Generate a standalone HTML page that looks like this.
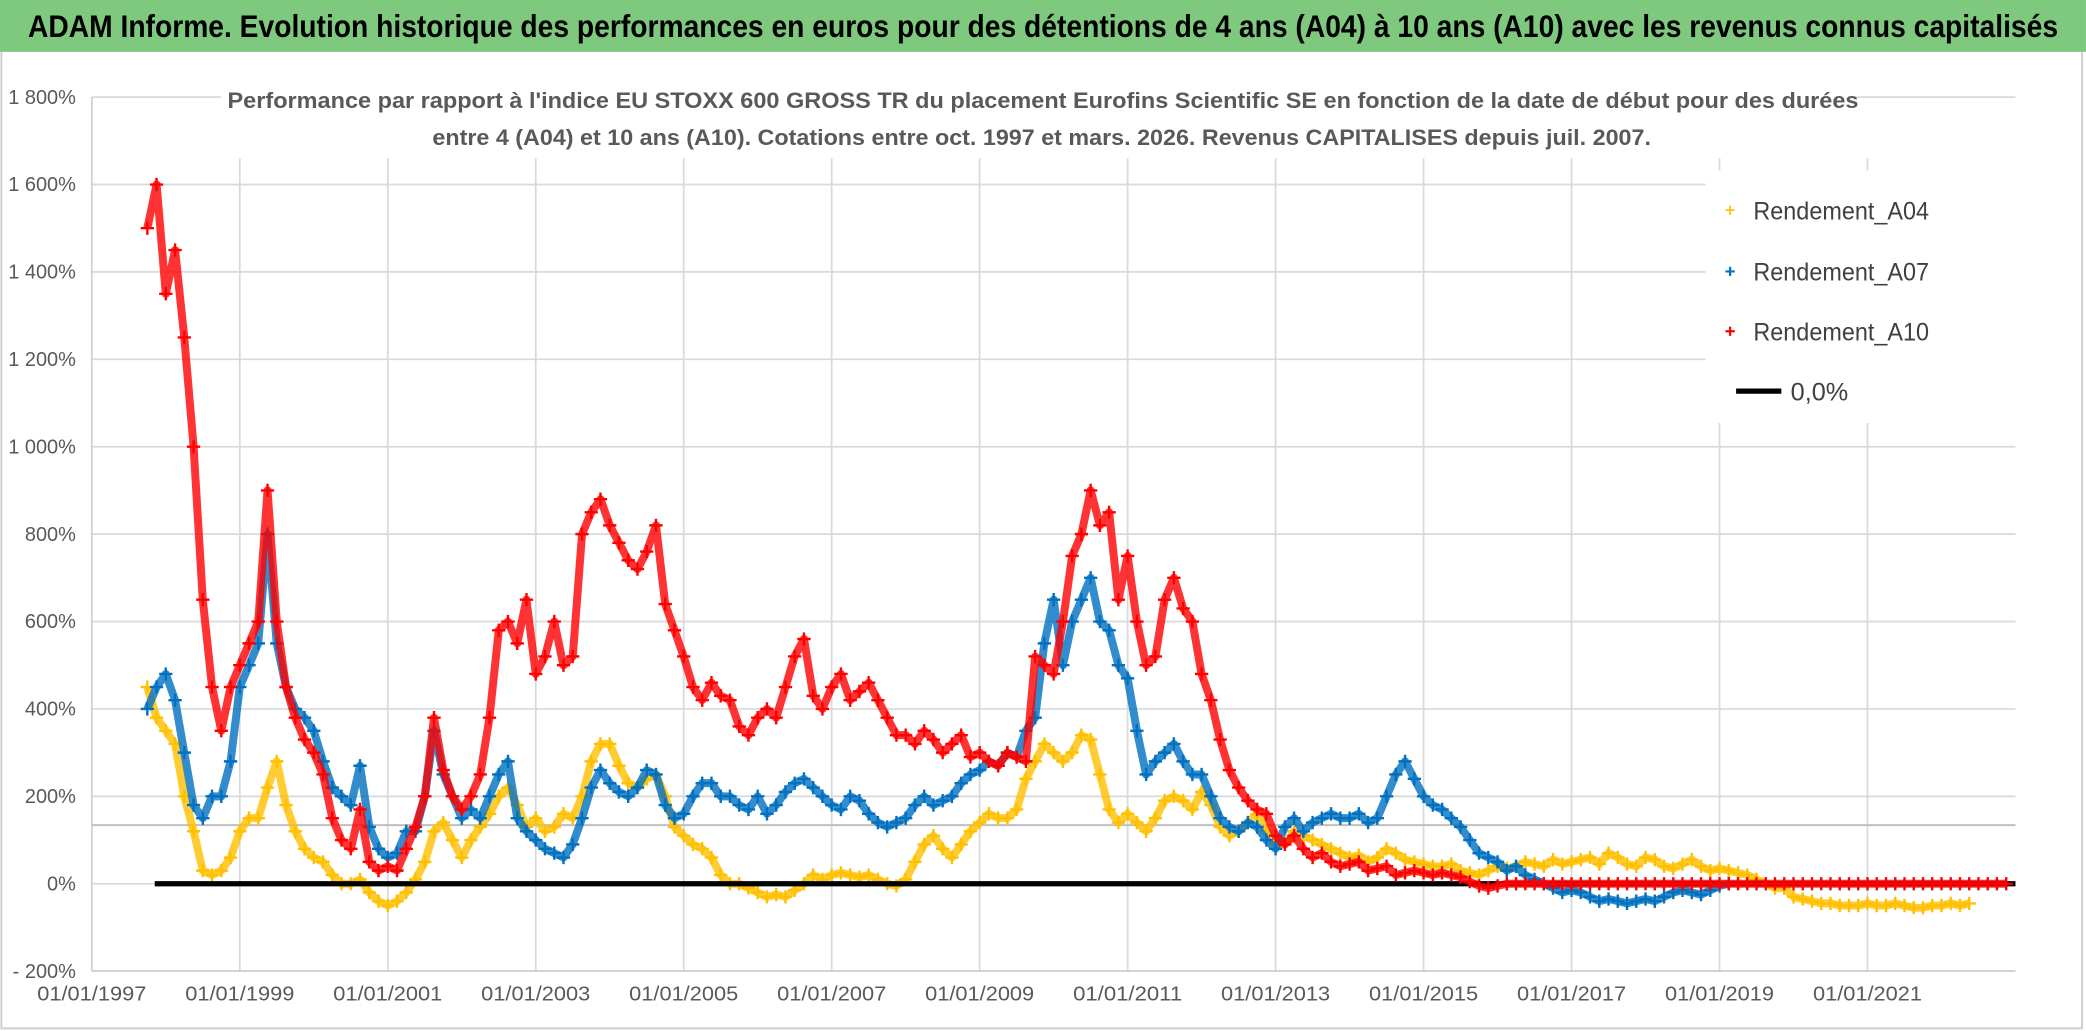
<!DOCTYPE html>
<html><head><meta charset="utf-8"><style>
html,body{margin:0;padding:0;background:#fff;}
svg{display:block;}
text{font-family:"Liberation Sans",sans-serif;}
</style></head><body>
<svg id="chart" width="2086" height="1031" viewBox="0 0 1568 775" xmlns="http://www.w3.org/2000/svg">
<rect x="0" y="0" width="1568" height="775" fill="#fff"/>
<rect x="1" y="1" width="1564" height="772" fill="none" stroke="#d0d0d0" stroke-width="1.5"/>
<rect x="0" y="0" width="1568" height="39" fill="#7fc97f"/>
<text x="784" y="28" text-anchor="middle" font-size="24" font-weight="bold" fill="#000" textLength="1526" lengthAdjust="spacingAndGlyphs">ADAM Informe. Evolution historique des performances en euros pour des détentions de 4 ans (A04) à 10 ans (A10) avec les revenus connus capitalisés</text>
<g id="grid"></g>
<rect x="166" y="58" width="1226" height="60" fill="#fff"/>
<text x="784" y="81" text-anchor="middle" font-size="17" font-weight="bold" fill="#595959" textLength="1226" lengthAdjust="spacingAndGlyphs">Performance par rapport à l'indice EU STOXX 600 GROSS TR  du placement Eurofins Scientific SE en fonction de la date de début pour des durées</text>
<text x="783" y="109" text-anchor="middle" font-size="17" font-weight="bold" fill="#595959" textLength="916" lengthAdjust="spacingAndGlyphs">entre 4 (A04) et 10 ans (A10). Cotations entre oct. 1997 et mars. 2026. Revenus CAPITALISES depuis juil. 2007.</text>
<g id="axes"></g>
<g id="series"></g>
<g id="legend">
<rect x="1282" y="128" width="233" height="190" fill="#fff"/>
<g><path d="M1297 158h7M1300.5 154.5v7" stroke="#FFC000" stroke-width="1.3"/><text x="1318" y="165" font-size="19" fill="#404040" textLength="132" lengthAdjust="spacingAndGlyphs">Rendement_A04</text></g>
<g><path d="M1297 204h7M1300.5 200.5v7" stroke="#0070C0" stroke-width="1.6"/><text x="1318" y="211" font-size="19" fill="#404040" textLength="132" lengthAdjust="spacingAndGlyphs">Rendement_A07</text></g>
<g><path d="M1297 249h7M1300.5 245.5v7" stroke="#FF0000" stroke-width="1.6"/><text x="1318" y="256" font-size="19" fill="#404040" textLength="132" lengthAdjust="spacingAndGlyphs">Rendement_A10</text></g>
<g><path d="M1305 294h34" stroke="#000" stroke-width="4"/><text x="1346" y="301" font-size="19" fill="#404040">0,0%</text></g>
</g>
</svg>
<script>
const yTicks=[1800,1600,1400,1200,1000,800,600,400,200,0,-200];
const yTickLabels=["1 800%","1 600%","1 400%","1 200%","1 000%","800%","600%","400%","200%","0%","- 200%"];
const xTickYears=[1997,1999,2001,2003,2005,2007,2009,2011,2013,2015,2017,2019,2021];
const xTickLabels=["01/01/1997","01/01/1999","01/01/2001","01/01/2003","01/01/2005","01/01/2007","01/01/2009","01/01/2011","01/01/2013","01/01/2015","01/01/2017","01/01/2019","01/01/2021"];
const refLineValue=134;
const zeroLineStart=1997.85, zeroLineEnd=2023;
const a04Start=1997.75, a07Start=1997.75, a10Start=1997.75, stepYears=0.125;
const a04Values=[450,380,350,320,200,120,30,20,30,60,120,150,150,220,280,180,120,80,60,50,20,0,0,10,-20,-40,-50,-40,-20,10,50,120,140,100,60,100,130,160,200,220,180,130,150,120,130,160,150,200,280,320,320,270,230,220,240,250,200,130,110,90,80,60,20,0,0,-10,-20,-30,-25,-30,-15,0,20,10,20,25,20,15,20,10,0,-5,10,50,90,110,80,60,90,120,140,160,150,150,170,240,280,320,300,280,300,340,330,250,170,140,160,140,120,150,190,200,190,170,210,180,130,110,120,140,160,120,90,90,120,110,100,90,80,70,60,65,50,60,80,70,55,50,45,40,40,45,30,25,20,30,40,35,40,50,45,40,55,45,50,55,60,45,70,60,45,40,60,55,40,35,45,55,40,30,35,30,25,20,10,0,-10,-10,-30,-35,-40,-45,-45,-50,-50,-50,-45,-50,-50,-45,-50,-55,-55,-50,-50,-45,-50,-45];
const a07Values=[400,450,480,420,300,180,150,200,200,280,450,500,550,800,550,450,400,380,350,280,220,200,180,270,130,80,60,70,120,120,200,350,250,200,150,170,150,200,250,280,150,120,100,80,70,60,90,150,220,260,230,210,200,220,260,250,180,150,160,200,230,230,200,200,180,170,200,160,180,210,230,240,220,200,180,170,200,190,160,140,130,140,150,180,200,180,190,200,230,250,260,280,270,300,290,350,380,550,650,500,600,650,700,600,580,500,470,350,250,280,300,320,280,250,250,200,150,130,120,140,130,100,80,130,150,120,140,150,160,150,150,160,140,150,200,250,280,240,200,180,170,150,130,100,70,60,50,30,40,20,10,0,-10,-20,-15,-20,-30,-40,-35,-40,-45,-40,-35,-40,-30,-20,-15,-20,-25,-15,-5,0];
const a10Values=[1500,1600,1350,1450,1250,1000,650,450,350,450,500,550,600,900,600,450,380,330,300,250,150,100,80,170,50,30,40,30,80,130,200,380,260,200,170,200,250,380,580,600,550,650,480,520,600,500,520,800,850,880,820,780,740,720,760,820,640,580,520,450,420,460,430,420,360,340,380,400,380,450,520,560,430,400,450,480,420,440,460,420,380,340,340,320,350,330,300,320,340,290,300,280,270,300,290,280,520,500,480,600,750,800,900,820,850,650,750,600,500,520,650,700,630,600,480,420,330,260,220,190,170,160,110,90,110,80,60,70,50,40,45,50,30,35,40,20,25,30,25,20,25,20,15,5,-5,-10,-5,0,0,0,0,0,0,0,0,0,0,0,0,0,0,0,0,0,0,0,0,0,0,0,0,0,0,0,0,0,0,0,0,0,0,0,0,0,0,0,0,0,0,0,0,0,0,0,0,0,0,0,0,0,0,0];

const NS="http://www.w3.org/2000/svg";
const plotL=69, plotR=1515, plotT=73, plotB=730;
const yMin=-200, yMax=1800, xMin=1997, xMax=2023;
function ys(v){return plotB-(v-yMin)/(yMax-yMin)*(plotB-plotT);}
function xs(yr){return plotL+(yr-xMin)/(xMax-xMin)*(plotR-plotL);}
function mk(tag,attrs,parent){const e=document.createElementNS(NS,tag);for(const k in attrs)e.setAttribute(k,attrs[k]);parent.appendChild(e);return e;}

const grid=document.getElementById('grid');
yTicks.forEach((v,i)=>{
  const l=mk('line',{x1:plotL,x2:plotR,y1:ys(v),y2:ys(v),stroke:'#d9d9d9','stroke-width':1.3},grid);
  
  
});
xTickYears.forEach((yr,i)=>{
  if(i===0)return;
  const l=mk('line',{x1:xs(yr),x2:xs(yr),y1:119,y2:plotB,stroke:'#d9d9d9','stroke-width':1.3},grid);
  
  
});

const axes=document.getElementById('axes');
const ax=mk('line',{x1:plotL,x2:plotL,y1:plotT,y2:plotB,stroke:'#d0d0d0','stroke-width':1.3},axes);


const bx=mk('line',{x1:plotL,x2:plotR,y1:plotB,y2:plotB,stroke:'#d0d0d0','stroke-width':1.3},axes);


const rl=mk('line',{x1:plotL,x2:plotR,y1:ys(refLineValue),y2:ys(refLineValue),stroke:'#bfbfbf','stroke-width':1.5},axes);


yTicks.forEach((v,i)=>{
  const t=mk('text',{x:57,y:ys(v)+5,'text-anchor':'end','font-size':15,fill:'#595959'},axes);
  t.textContent=yTickLabels[i];
  
  
});
xTickYears.forEach((yr,i)=>{
  const t=mk('text',{x:xs(yr),y:752,'text-anchor':'middle','font-size':15,fill:'#595959',textLength:82,lengthAdjust:'spacingAndGlyphs'},axes);
  t.textContent=xTickLabels[i];
  
  
});

const series=document.getElementById('series');
function drawSeries(vals,start,color,name,sw){
  const g=mk('g',{},series);
  
  
  const pts=vals.map((v,i)=>xs(start+i*stepYears).toFixed(1)+','+ys(v).toFixed(1)).join(' ');
  const pl=mk('polyline',{points:pts,fill:'none',stroke:color,'stroke-width':sw,'stroke-opacity':0.8,'stroke-linejoin':'round'},g);
  
  
  vals.forEach((v,i)=>{
    const x=xs(start+i*stepYears), y=ys(v);
    const p=mk('path',{d:`M${x-5} ${y}h10M${x} ${y-5}v10`,stroke:color,'stroke-width':1.8},g);
    
    
  });
}
drawSeries(a04Values,a04Start,'#FFC000','series-a04',6);
const z=mk('line',{x1:xs(zeroLineStart),x2:xs(zeroLineEnd),y1:ys(0),y2:ys(0),stroke:'#000','stroke-width':4},series);


drawSeries(a07Values,a07Start,'#0070C0','series-a07',6);
drawSeries(a10Values,a10Start,'#FF0000','series-a10',6);
</script>
</body></html>
